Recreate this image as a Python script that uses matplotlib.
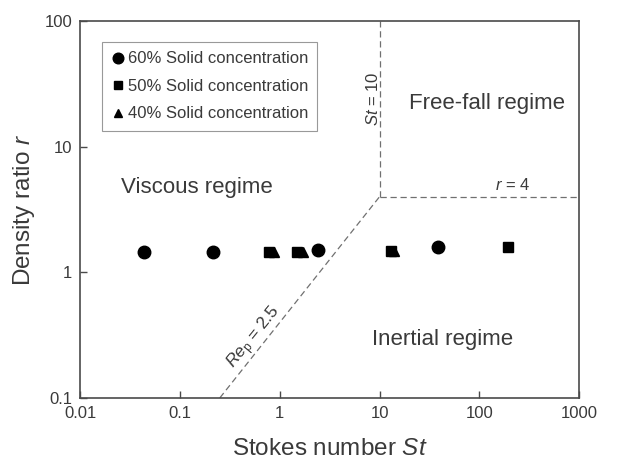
import matplotlib
matplotlib.use("Agg")
import matplotlib.pyplot as plt

plt.rcParams['font.family'] = ['Liberation Sans', 'DejaVu Sans']
plt.rcParams['mathtext.fontset'] = 'custom'
plt.rcParams['mathtext.it'] = 'Liberation Sans:italic'
plt.rcParams['mathtext.rm'] = 'Liberation Sans'

# data
st_60 = [0.043, 0.212, 2.4, 38.5]
r_60 = [1.45, 1.45, 1.5, 1.6]
st_50 = [0.78, 1.47, 12.9, 196]
r_50 = [1.45, 1.45, 1.48, 1.6]
st_40 = [0.88, 1.7, 14.0]
r_40 = [1.45, 1.45, 1.48]

# regime boundaries
rep_st = [0.25, 10]
rep_r = [0.1, 4]
st10_st = [10, 10]
st10_r = [4, 100]
r4_st = [10, 1000]
r4_r = [4, 4]

txt = '#3a3a3a'
fig = plt.figure(figsize=(6.28, 4.59), dpi=100)
ax = fig.add_axes([0.128, 0.133, 0.794, 0.821])

ax.set_xscale('log')
ax.set_yscale('log')
ax.set_xlim(0.01, 1000)
ax.set_ylim(0.1, 100)

dash = dict(color='#707070', lw=0.9, ls=(0, (5, 3)))
ax.plot(rep_st, rep_r, **dash)
ax.plot(st10_st, st10_r, **dash)
ax.plot(r4_st, r4_r, **dash)

ax.plot(st_60, r_60, 'o', color='black', ms=9, label='60% Solid concentration')
ax.plot(st_50, r_50, 's', color='black', ms=7.5, label='50% Solid concentration')
ax.plot(st_40, r_40, '^', color='black', ms=7.5, label='40% Solid concentration')

ax.text(0.148, 4.75, 'Viscous regime', fontsize=16, color=txt, ha='center', va='center')
ax.text(120, 22, 'Free-fall regime', fontsize=16, color=txt, ha='center', va='center')
ax.text(43, 0.29, 'Inertial regime', fontsize=16, color=txt, ha='center', va='center')
ax.text(8.5, 24, '$St$ = 10', fontsize=12, color=txt, rotation=90, ha='center', va='center')
ax.text(215, 4.25, '$r$ = 4', fontsize=12, color=txt, ha='center', va='bottom')
ax.text(0.56, 0.3, '$Re_\\mathrm{p}$ = 2.5', fontsize=12.5, color=txt, rotation=51,
        ha='center', va='center')

ax.set_xticks([0.01, 0.1, 1, 10, 100, 1000])
ax.set_xticklabels(['0.01', '0.1', '1', '10', '100', '1000'])
ax.set_yticks([0.1, 1, 10, 100])
ax.set_yticklabels(['0.1', '1', '10', '100'])
ax.minorticks_off()
ax.tick_params(direction='in', length=5, width=1, colors='#4a4a4a', labelcolor=txt,
               labelsize=12, pad=6)
for s in ax.spines.values():
    s.set_color('#4a4a4a')
    s.set_linewidth(1.2)

ax.set_xlabel('Stokes number $St$', fontsize=17.5, color=txt, labelpad=12)
ax.set_ylabel('Density ratio $r$', fontsize=17.5, color=txt, labelpad=5)

leg = ax.legend(loc='upper left', bbox_to_anchor=(0.043, 0.944), fontsize=12,
                handletextpad=0.2, handlelength=0.8, borderpad=0.55, labelspacing=0.75,
                markerscale=0.85, fancybox=False, framealpha=1, edgecolor='#999999',
                labelcolor=txt, borderaxespad=0)
leg.get_frame().set_linewidth(0.8)

fig.savefig('out.png', dpi=100)
